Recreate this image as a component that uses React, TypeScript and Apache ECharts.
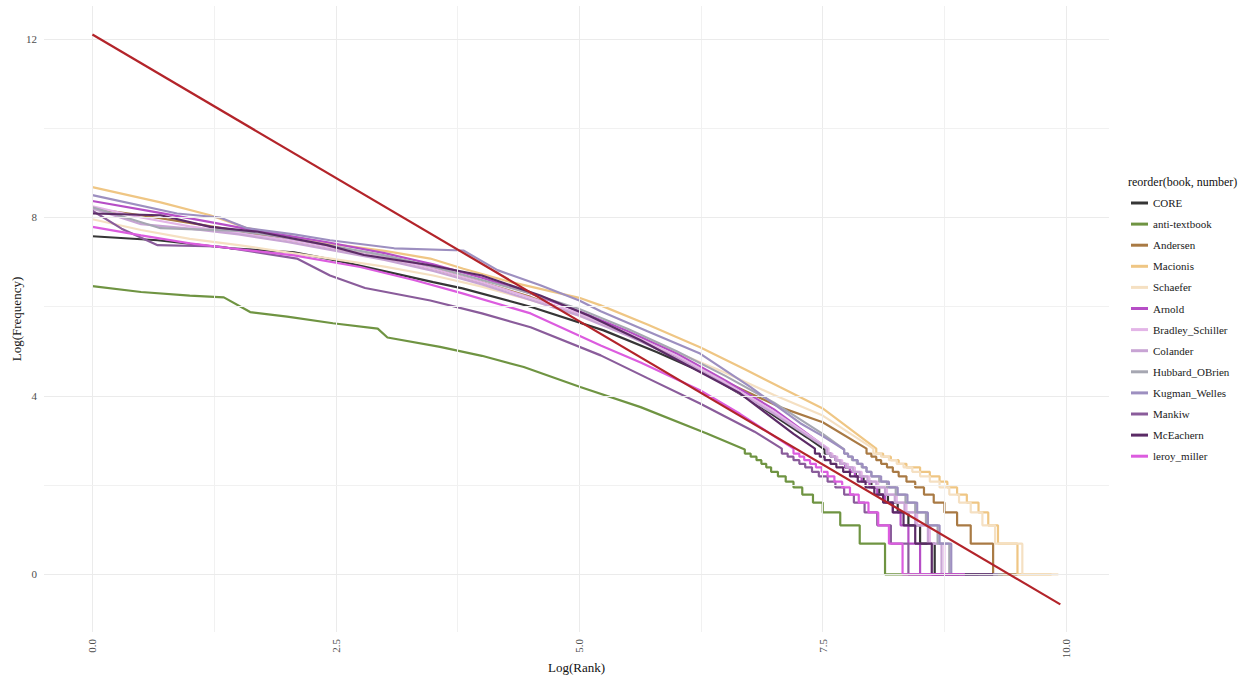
import React, { useEffect, useRef } from "react";
import * as echarts from "echarts";

// ---- data (x = Log(Rank), y = Log(Frequency)) ----
const books = [
  "CORE", "anti-textbook", "Andersen", "Macionis", "Schaefer", "Arnold",
  "Bradley_Schiller", "Colander", "Hubbard_OBrien", "Kugman_Welles",
  "Mankiw", "McEachern", "leroy_miller",
];
const bookColors = [
  "#363636", "#6f9442", "#a97a44", "#efc684", "#f5e0c2", "#b64ec6",
  "#e3b5e7", "#c8a4d4", "#a6a7b2", "#9d8fc0", "#8a5c9b", "#5b2b66", "#dc5cdf",
];

// frequency levels of the stair-stepped tail: ln(15) ... ln(1)
const tailLevels = [2.71, 2.64, 2.56, 2.48, 2.40, 2.30, 2.20, 2.08, 1.95, 1.79, 1.61, 1.39, 1.10, 0.69, 0];

// smooth upper part of each curve, then the x where each tail level ends
const coreHead = [[0,7.58],[0.67,7.49],[1.42,7.31],[2.07,7.22],[2.5,7.04],[2.95,6.82],[3.5,6.55],[3.8,6.41],[4.5,6.0],[5.25,5.47],[5.8,4.98],[6.3,4.5],[6.8,3.85],[7.34,3.07],[7.52,2.8]];
const coreTail = [7.58,7.63,7.68,7.73,7.78,7.84,7.92,8.0,8.08,8.17,8.27,8.38,8.5,8.65,9.0];

const antiHead = [[0,6.46],[0.5,6.33],[1,6.25],[1.35,6.21],[1.62,5.88],[2,5.78],[2.47,5.63],[2.93,5.51],[3.03,5.31],[3.57,5.1],[4,4.9],[4.43,4.65],[5.01,4.2],[5.63,3.75],[6.31,3.16],[6.7,2.8]];
const antiTail = [6.76,6.82,6.87,6.92,6.97,7.04,7.12,7.2,7.29,7.4,7.5,7.68,7.88,8.14,8.5];

const andersenHead = [[0,8.2],[0.5,8.05],[1,7.88],[1.5,7.7],[2,7.5],[2.5,7.3],[3,7.1],[3.5,6.85],[4,6.55],[4.5,6.22],[5,5.82],[5.5,5.38],[6,4.88],[6.5,4.32],[7.06,3.75],[7.5,3.41],[7.95,2.82]];
const andersenTail = [8.0,8.05,8.1,8.16,8.22,8.28,8.36,8.45,8.54,8.64,8.75,8.88,9.02,9.25,9.5];

const macionisHead = [[0,8.68],[0.7,8.34],[1.21,8.05],[1.59,7.76],[2.41,7.42],[3,7.25],[3.47,7.08],[3.81,6.85],[4.3,6.55],[5,6.2],[5.22,6.03],[5.7,5.6],[6.24,5.09],[6.7,4.6],[7.06,4.2],[7.5,3.72],[8.05,2.82]];
const macionisTail = [8.12,8.2,8.28,8.36,8.5,8.6,8.7,8.78,8.88,8.98,9.1,9.2,9.3,9.5,9.85];

const schaeferHead = [[0,7.96],[0.5,7.72],[1,7.52],[1.5,7.38],[2,7.22],[2.5,7.06],[3,6.9],[3.5,6.7],[4,6.45],[4.5,6.15],[5,5.8],[5.5,5.42],[6,4.98],[6.5,4.52],[7,4.02],[7.5,3.56],[8.02,2.82]];
const schaeferTail = [8.1,8.18,8.26,8.33,8.42,8.5,8.6,8.7,8.8,8.9,9.02,9.14,9.27,9.55,9.92];

const arnoldHead = [[0,8.37],[0.65,8.12],[1.2,7.9],[1.7,7.7],[2.4,7.45],[3,7.2],[3.5,6.95],[4,6.65],[4.5,6.3],[5,5.9],[5.5,5.45],[6,4.95],[6.5,4.35],[7,3.7],[7.55,2.82]];
const arnoldTail = [7.59,7.63,7.68,7.73,7.78,7.83,7.9,7.98,8.06,8.14,8.22,8.3,8.38,8.5,8.9];

const bradleyHead = [[0,8.25],[0.5,8.0],[1,7.8],[1.5,7.65],[2,7.5],[2.5,7.3],[3,7.1],[3.5,6.85],[4,6.55],[4.5,6.2],[5,5.85],[5.5,5.4],[6,4.9],[6.5,4.3],[7,3.65],[7.56,2.82]];
const bradleyTail = [7.6,7.65,7.7,7.76,7.83,7.9,7.98,8.07,8.16,8.26,8.36,8.47,8.6,8.75,9.1];

const colanderHead = [[0,8.2],[0.5,7.85],[1,7.75],[1.5,7.62],[2,7.45],[2.5,7.25],[3,7.05],[3.5,6.8],[4,6.5],[4.5,6.15],[5,5.8],[5.5,5.35],[6,4.85],[6.5,4.25],[7,3.6],[7.54,2.82]];
const colanderTail = [7.58,7.63,7.68,7.74,7.81,7.88,7.96,8.05,8.14,8.24,8.34,8.45,8.58,8.72,9.1];

const hubbardHead = [[0,8.23],[0.7,7.76],[1.5,7.7],[2,7.55],[2.5,7.35],[3,7.15],[3.5,6.9],[4,6.6],[4.5,6.3],[5,5.95],[5.5,5.5],[6,5.0],[6.5,4.45],[7,3.85],[7.5,3.15],[7.72,2.8]];
const hubbardTail = [7.76,7.8,7.85,7.9,7.95,8.0,8.08,8.16,8.25,8.35,8.45,8.56,8.68,8.8,9.35];

const kugmanHead = [[0,8.5],[0.87,8.09],[1.31,8.0],[1.59,7.76],[2.07,7.62],[2.44,7.49],[3.1,7.31],[3.81,7.26],[4.16,6.82],[4.6,6.48],[5,6.14],[5.22,5.9],[5.7,5.45],[6.24,4.95],[6.76,4.2],[7.27,3.39],[7.5,3.1],[7.72,2.8]];
const kugmanTail = [7.76,7.81,7.86,7.91,7.95,8.0,8.1,8.18,8.27,8.37,8.47,8.58,8.7,8.82,9.3];

const mankiwHead = [[0,8.15],[0.3,7.75],[0.67,7.38],[1.3,7.35],[2.1,7.08],[2.44,6.7],[2.8,6.42],[3.47,6.14],[4,5.85],[4.5,5.54],[5.22,4.91],[5.7,4.4],[6.24,3.83],[6.8,3.2],[7.08,2.82]];
const mankiwTail = [7.14,7.2,7.26,7.32,7.39,7.46,7.55,7.63,7.72,7.82,7.93,8.06,8.2,8.38,8.9];

const mceachernHead = [[0,8.09],[0.7,8.05],[1.21,7.79],[1.7,7.68],[2.41,7.38],[2.79,7.16],[3.47,6.93],[4,6.7],[4.6,6.25],[5.1,5.8],[5.63,5.25],[6.1,4.7],[6.65,4.06],[7.2,3.15],[7.42,2.82]];
const mceachernTail = [7.47,7.52,7.58,7.64,7.71,7.78,7.86,7.94,8.03,8.12,8.22,8.33,8.45,8.62,9.25];

const leroyHead = [[0,7.79],[0.5,7.6],[1,7.42],[1.42,7.31],[2.07,7.15],[2.75,6.89],[3.3,6.6],[3.8,6.3],[4.5,5.85],[5.22,5.13],[5.63,4.75],[6.24,4.13],[6.65,3.6],[7.0,3.1],[7.2,2.82]];
const leroyTail = [7.26,7.31,7.37,7.43,7.49,7.55,7.62,7.7,7.78,7.87,7.97,8.07,8.18,8.32,8.96];

const heads = [coreHead, antiHead, andersenHead, macionisHead, schaeferHead, arnoldHead, bradleyHead, colanderHead, hubbardHead, kugmanHead, mankiwHead, mceachernHead, leroyHead];
const tails = [coreTail, antiTail, andersenTail, macionisTail, schaeferTail, arnoldTail, bradleyTail, colanderTail, hubbardTail, kugmanTail, mankiwTail, mceachernTail, leroyTail];

// reference (Zipf) line
const zipfX = [0, 9.94];
const zipfY = [12.1, -0.67];

const xTicks = [0, 2.5, 5, 7.5, 10];
const xMinorGrid = [1.25, 3.75, 6.25, 8.75];
const yTicks = [0, 4, 8, 12];
const yMinorGrid = [2, 6, 10];

const FONT = "'Liberation Serif', 'DejaVu Serif', serif";

function buildPath(head: number[][], tail: number[]) {
  const pts: number[][] = head.map((p) => [p[0], p[1]]);
  let prevX = head[head.length - 1][0];
  tailLevels.forEach((lvl, i) => {
    pts.push([prevX, lvl]);
    pts.push([tail[i], lvl]);
    prevX = tail[i];
  });
  return pts;
}

export default function App() {
  const ref = useRef<HTMLDivElement>(null);
  useEffect(() => {
    document.body.style.margin = "0";
    const chart = echarts.init(ref.current!, undefined, { renderer: "svg" });
    const gridLine = (c: string, w: number) => ({ color: c, width: w, type: "solid" as const });
    const markData = [
      ...xTicks.map((v) => ({ xAxis: v, lineStyle: gridLine("#ebebeb", 1) })),
      ...xMinorGrid.map((v) => ({ xAxis: v, lineStyle: gridLine("#f1f1f1", 1) })),
      ...yTicks.map((v) => ({ yAxis: v, lineStyle: gridLine("#ebebeb", 1) })),
      ...yMinorGrid.map((v) => ({ yAxis: v, lineStyle: gridLine("#f1f1f1", 1) })),
    ];
    const bookSeries = books.map((name, i) => ({
      name,
      type: "line",
      data: buildPath(heads[i], tails[i]),
      symbol: "none",
      z: 3,
      lineStyle: { color: bookColors[i], width: 2.2 },
      itemStyle: { color: bookColors[i] },
    }));
    chart.setOption({
      animation: false,
      backgroundColor: "#ffffff",
      title: {
        text: "reorder(book, number)",
        left: 1128,
        top: 176,
        padding: 0,
        textStyle: { fontSize: 12, fontWeight: "normal", fontFamily: FONT, color: "#111" },
      },
      legend: {
        data: books.map((name) => ({ name, icon: "rect" })),
        orient: "vertical",
        left: 1131,
        top: 197,
        padding: 0,
        itemWidth: 17,
        itemHeight: 3,
        itemGap: 9.1,
        textStyle: { fontSize: 11, fontFamily: FONT, color: "#1a1a1a", lineHeight: 12 },
      },
      grid: { left: 44, right: 136, top: 6, bottom: 44, outerBoundsMode: "none" },
      xAxis: {
        type: "value",
        min: -0.497,
        max: 10.44,
        axisLine: { show: false },
        axisTick: { show: false },
        splitLine: { show: false },
        axisLabel: {
          customValues: xTicks,
          formatter: (v: number) => v.toFixed(1),
          rotate: 90,
          margin: 7,
          color: "#4d4d4d",
          fontSize: 11,
          fontFamily: FONT,
        },
        name: "Log(Rank)",
        nameLocation: "middle",
        nameGap: 29,
        nameMoveOverlap: false,
        nameTextStyle: { fontSize: 13, fontFamily: FONT, color: "#111" },
      },
      yAxis: {
        type: "value",
        min: -1.29,
        max: 12.74,
        axisLine: { show: false },
        axisTick: { show: false },
        splitLine: { show: false },
        axisLabel: {
          customValues: yTicks,
          formatter: (v: number) => String(v),
          margin: 7,
          color: "#4d4d4d",
          fontSize: 11,
          fontFamily: FONT,
        },
        name: "Log(Frequency)",
        nameLocation: "middle",
        nameGap: 21,
        nameMoveOverlap: false,
        nameTextStyle: { fontSize: 13, fontFamily: FONT, color: "#111" },
      },
      series: [
        {
          name: "grid",
          type: "line",
          data: [],
          silent: true,
          z: 1,
          markLine: { silent: true, symbol: ["none", "none"], label: { show: false }, data: markData },
        },
        ...bookSeries,
        {
          name: "zipf",
          type: "line",
          data: zipfX.map((x, i) => [x, zipfY[i]]),
          symbol: "none",
          z: 5,
          lineStyle: { color: "#b3242a", width: 2.2 },
        },
      ],
    });
    return () => chart.dispose();
  }, []);
  return (
    <div
      ref={ref}
      style={{ position: "absolute", left: 0, top: 0, width: 1245, height: 676, background: "#fff" }}
    />
  );
}
